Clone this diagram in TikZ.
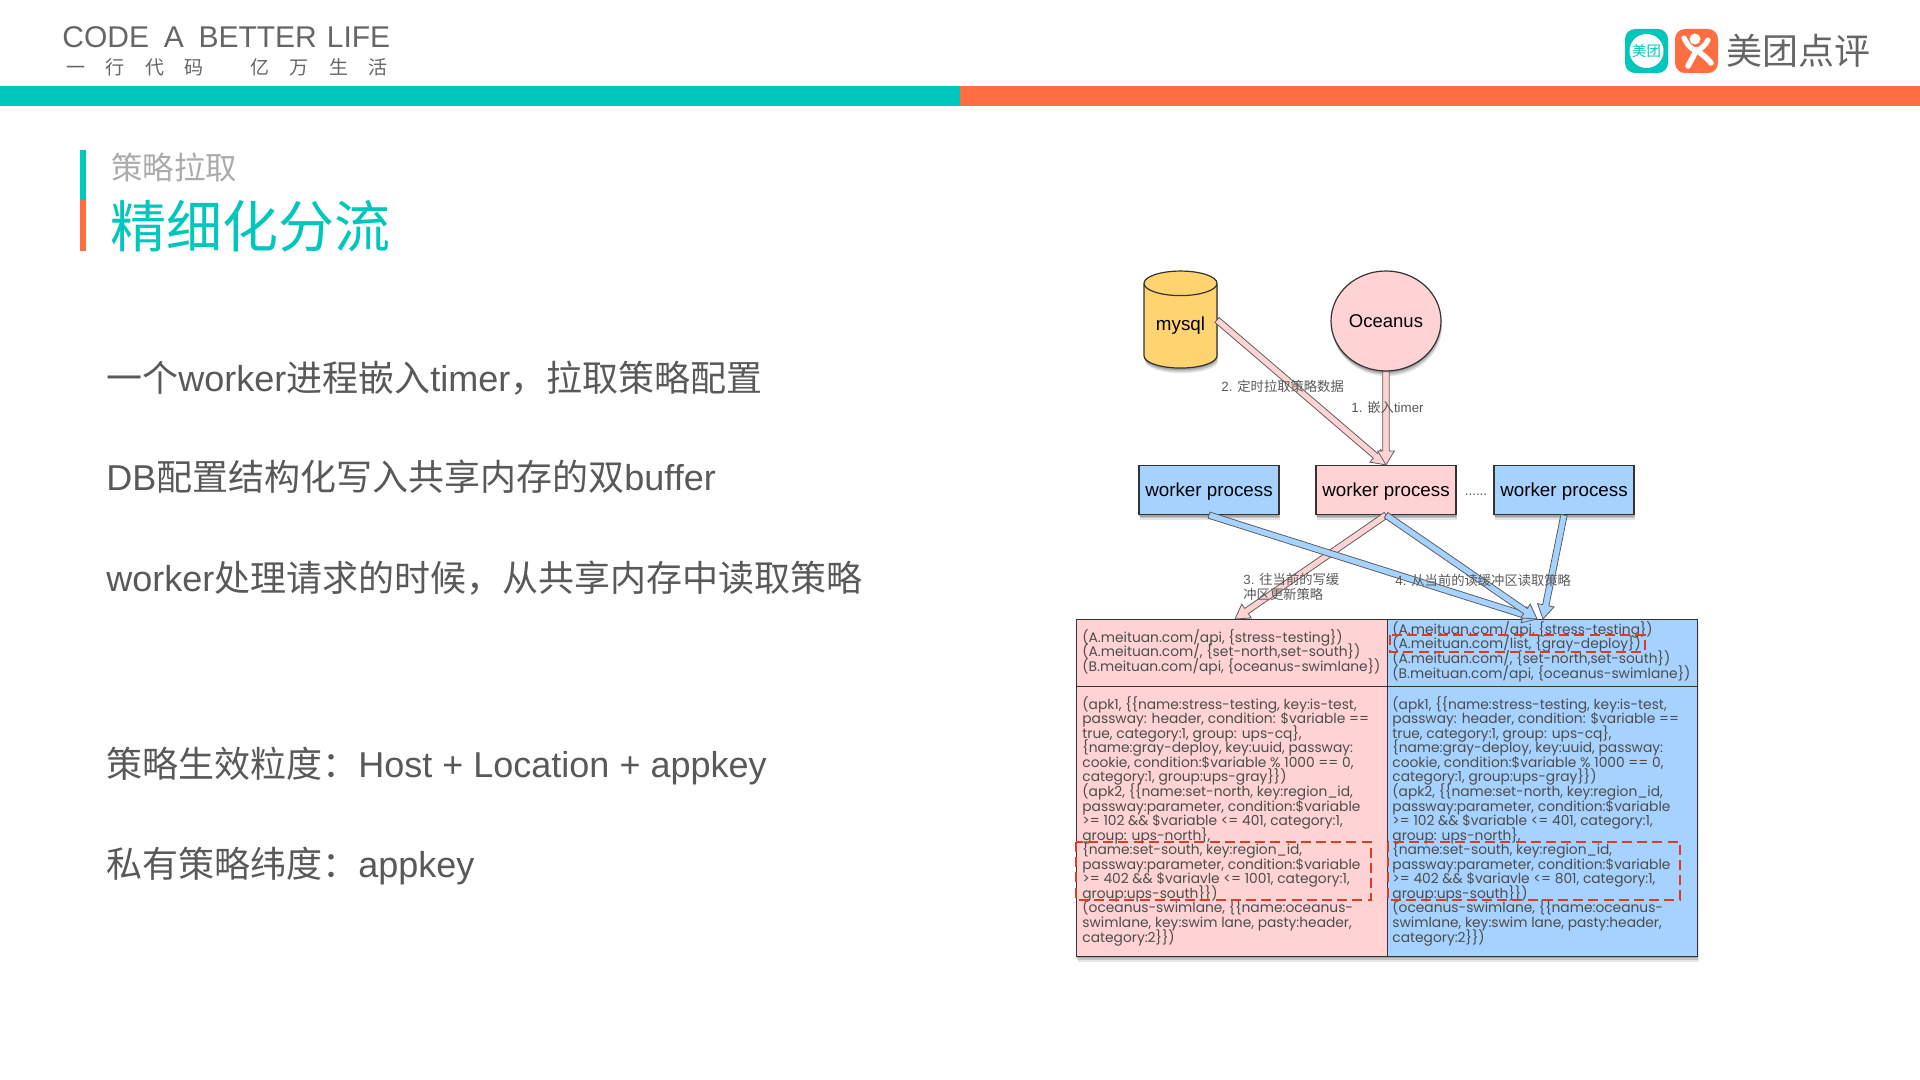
\documentclass[tikz,border=0pt]{standalone}
\usepackage{fontspec}
\setmainfont{Liberation Sans}
\newfontfamily\cjk{Noto Sans CJK SC}
\newfontfamily\tabfont{Poppins}
\usetikzlibrary{calc,shadows,shapes.geometric}
\normallineskiplimit=-10pt
\normallineskip=0pt
\lineskiplimit=-10pt
\lineskip=0pt
\definecolor{teal}{HTML}{00C7BC}
\definecolor{orng}{HTML}{FF6E40}
\definecolor{bodyc}{HTML}{595959}
\definecolor{subc}{HTML}{ABABAB}
\definecolor{logoc}{HTML}{666666}
\definecolor{pinkc}{HTML}{FFD3D3}
\definecolor{bluec}{HTML}{A6D2FF}
\definecolor{cylc}{HTML}{FFD470}
\definecolor{edgec}{HTML}{333333}
\definecolor{redd}{HTML}{DD3B26}
\definecolor{arrowedge}{HTML}{5E5E5E}
\newcommand\fwcomma{\char"FF0C\relax}
\newcommand\fwcolon{\char"FF1A\relax}
\newcommand\fatarrow[3]{%
  \coordinate (hd) at ($(#2)!7pt!(#1)$);
  \draw[draw=arrowedge,line width=.4pt,line join=miter,fill=#3]
    ($(#1)!1.6pt!90:(#2)$) -- ($(hd)!1.6pt!90:(#2)$) -- ($(hd)!4.2pt!90:(#2)$) -- (#2)
    -- ($(hd)!4.2pt!-90:(#2)$) -- ($(hd)!1.6pt!-90:(#2)$) -- ($(#1)!1.6pt!-90:(#2)$) -- cycle;
}
\tikzset{
  softshadow/.style={
    general shadow={fill=black,opacity=.16,shadow xshift=0pt,shadow yshift=-1pt},
    general shadow={fill=black,opacity=.14,shadow xshift=.3pt,shadow yshift=-1.8pt},
    general shadow={fill=black,opacity=.10,shadow xshift=.6pt,shadow yshift=-2.6pt}},
  bodytext/.style={anchor=west,inner sep=0,text=bodyc,font=\fontsize{18}{22}\selectfont},
  workerbox/.style={draw=edgec,line width=.6pt,inner sep=0,minimum width=70pt,minimum height=24.5pt,softshadow,font=\fontsize{9.4}{11}\selectfont,text=black,text height=8.8pt,text depth=2pt},
  cell/.style={draw=edgec,line width=.6pt,anchor=north west,inner sep=0},
  celltext/.style={anchor=west,inner sep=0,align=left,text=bodyc!85!black,font=\tabfont\fontsize{6.9}{7.28}\selectfont},
  smalllabel/.style={inner sep=0,text=bodyc,font=\fontsize{6.65}{7.2}\selectfont},
  reddash/.style={draw=redd,line width=.9pt,dash pattern=on 5pt off 2.6pt}
}
\begin{document}
\begin{tikzpicture}[x=0.5pt,y=-0.5pt]
\useasboundingbox (0,0) rectangle (1920,1080);
\fill[white] (0,0) rectangle (1920,1080);
% top bar
\fill[teal] (0,86) rectangle (960,106);
\fill[orng] (960,86) rectangle (1920,106);
% slogan
\node[anchor=west,inner sep=0,text=logoc] (slogan) at (62,37) {\fontsize{15}{18}\selectfont CODE\hspace{3.2pt} A\hspace{3.2pt} BETTER\hspace{.8pt} LIFE};
\node[anchor=west,inner sep=0,text=logoc] (sloganzh) at (66,67) {\cjk\fontsize{9.5}{11}\selectfont 一\hspace{10.25pt}行\hspace{10.25pt}代\hspace{10.25pt}码\hspace{23.25pt}亿\hspace{10.25pt}万\hspace{10.25pt}生\hspace{10.25pt}活};
% logos
\fill[teal,rounded corners=5pt] (1625,29) rectangle (1668,73);
\fill[white] (1646.5,51) circle[radius=17];
\node[inner sep=0,text=teal] (logoa) at (1646.5,51) {\cjk\fontsize{7.2}{9}\selectfont 美团};
\fill[orng,rounded corners=5pt] (1675,29) rectangle (1718,73);
\fill[white] (1695,39) circle[radius=5.5];
\draw[white,line width=2.6pt,line cap=round] (1684,38) .. controls (1688,46) and (1692,50) .. (1696,50) .. controls (1700,50) and (1705,46) .. (1708,40);
\draw[white,line width=2.8pt,line cap=round] (1696,50) .. controls (1694,56) and (1691,60) .. (1688,66);
\draw[white,line width=2.8pt,line cap=round] (1696,50) .. controls (1702,54) and (1707,58) .. (1711,63);
\node[anchor=west,inner sep=0,text=logoc] (logot) at (1726,51) {\cjk\fontsize{18}{20}\selectfont 美团点评};
% title
\fill[teal] (80,150) rectangle (86,200);
\fill[orng] (80,200) rectangle (86,251);
\node[anchor=west,inner sep=0,text=subc] (sub) at (111,167) {\cjk\fontsize{15.7}{18}\selectfont 策略拉取};
\node[anchor=west,inner sep=0,text=teal] (ttl) at (110,226) {\cjk\fontsize{28}{32}\selectfont 精细化分流};
% body
\node[bodytext] (b1) at (106,378.5) {{\cjk 一个}worker{\cjk 进程嵌入}timer{\cjk \fwcomma 拉取策略配置}};
\node[bodytext] (b2) at (106,476.5) {DB{\cjk 配置结构化写入共享内存的双}buffer};
\node[bodytext] (b3) at (106,578.5) {worker{\cjk 处理请求的时候\fwcomma 从共享内存中读取策略}};
\node[bodytext] (b4) at (106,766.5) {{\cjk 策略生效粒度\fwcolon}Host + Location + appkey};
\node[bodytext] (b5) at (106,866.5) {{\cjk 私有策略纬度\fwcolon}appkey};
% diagram nodes
\node[cylinder,shape border rotate=90,aspect=.5,draw=edgec,line width=.6pt,fill=cylc,cylinder uses custom fill,cylinder body fill=cylc,cylinder end fill=cylc,minimum width=36.5pt,minimum height=48.5pt,inner sep=0,softshadow,font=\fontsize{9.4}{11}\selectfont,text=black] (mysql) at (1180.5,326) {mysql};
\node[ellipse,draw=edgec,line width=.6pt,fill=pinkc,minimum width=55pt,minimum height=50pt,inner sep=0,softshadow,font=\fontsize{9.25}{11}\selectfont,text=black] (ocean) at (1386,321) {Oceanus};
\node[workerbox,fill=bluec] (w1) at (1209,490) {worker process};
\node[workerbox,fill=pinkc] (w2) at (1386,490) {worker process};
\node[workerbox,fill=bluec] (w3) at (1564,490) {worker process};
\node[smalllabel,text=bodyc] (dots) at (1476,494.5) {......};
% table
\node[softshadow,fill=white,anchor=north west,inner sep=0,minimum width=310.5pt,minimum height=168.5pt] (tbl) at (1076,619) {};
\node[cell,fill=pinkc,minimum width=155.5pt,minimum height=33.5pt] (c1) at (1076,619) {};
\node[cell,fill=bluec,minimum width=155pt,minimum height=33.5pt] (c2) at (1387,619) {};
\node[cell,fill=pinkc,minimum width=155.5pt,minimum height=135pt] (c3) at (1076,686) {};
\node[cell,fill=bluec,minimum width=155pt,minimum height=135pt] (c4) at (1387,686) {};
\node[celltext] (t1) at (1082,652) {(A.meituan.com/api, \{stress-testing\})\\(A.meituan.com/, \{set-north,set-south\})\\(B.meituan.com/api, \{oceanus-swimlane\})};
\node[celltext] (t2) at (1392,651.5) {(A.meituan.com/api, \{stress-testing\})\\(A.meituan.com/list, \{gray-deploy\})\\(A.meituan.com/, \{set-north,set-south\})\\(B.meituan.com/api, \{oceanus-swimlane\})};
\node[celltext] (t3) at (1082,821) {(apk1, \{\{name:stress-testing, key:is-test,\\passway: header, condition: \$variable ==\\true, category:1, group: ups-cq\},\\\{name:gray-deploy, key:uuid, passway:\\cookie, condition:\$variable \% 1000 == 0,\\category:1, group:ups-gray\}\})\\(apk2, \{\{name:set-north, key:region\_id,\\passway:parameter, condition:\$variable\\>= 102 \&\& \$variable <= 401, category:1,\\group: ups-north\},\\\{name:set-south, key:region\_id,\\passway:parameter, condition:\$variable\\>= 402 \&\& \$variavle <= 1001, category:1,\\group:ups-south\}\})\\(oceanus-swimlane, \{\{name:oceanus-\\swimlane, key:swim lane, pasty:header,\\category:2\}\})};
\node[celltext] (t4) at (1392,821) {(apk1, \{\{name:stress-testing, key:is-test,\\passway: header, condition: \$variable ==\\true, category:1, group: ups-cq\},\\\{name:gray-deploy, key:uuid, passway:\\cookie, condition:\$variable \% 1000 == 0,\\category:1, group:ups-gray\}\})\\(apk2, \{\{name:set-north, key:region\_id,\\passway:parameter, condition:\$variable\\>= 102 \&\& \$variable <= 401, category:1,\\group: ups-north\},\\\{name:set-south, key:region\_id,\\passway:parameter, condition:\$variable\\>= 402 \&\& \$variavle <= 801, category:1,\\group:ups-south\}\})\\(oceanus-swimlane, \{\{name:oceanus-\\swimlane, key:swim lane, pasty:header,\\category:2\}\})};
% dashed highlights
\draw[reddash] (1390,635) rectangle (1645,652);
\draw[reddash] (1076,842) rectangle (1371,900);
\draw[reddash] (1388,842) rectangle (1680,900);
% connectors
\coordinate (mout) at (1217,320);
\coordinate (tipa) at (1235,619);
\coordinate (tipb) at (1537,619);
\coordinate (tipc) at (1543,619);
\fatarrow{mout}{w2.north}{pinkc}
\fatarrow{ocean.south}{w2.north}{pinkc}
\fatarrow{w2.south}{tipa}{pinkc}
\fatarrow{w1.south}{tipb}{bluec}
\fatarrow{w2.south}{tipb}{bluec}
\fatarrow{w3.south}{tipc}{bluec}
% labels
\node[smalllabel,anchor=west] (l2) at (1221,386) {2. {\cjk 定时拉取策略数据}};
\node[smalllabel,anchor=west] (l1) at (1351,407) {1. {\cjk 嵌入}timer};
\node[smalllabel,anchor=west,align=left] (l3) at (1243,587) {3. {\cjk 往当前的写缓}\\{\cjk 冲区更新策略}};
\node[smalllabel,anchor=west] (l4) at (1395,580) {4. {\cjk 从当前的读缓冲区读取策略}};
\end{tikzpicture}
\end{document}
